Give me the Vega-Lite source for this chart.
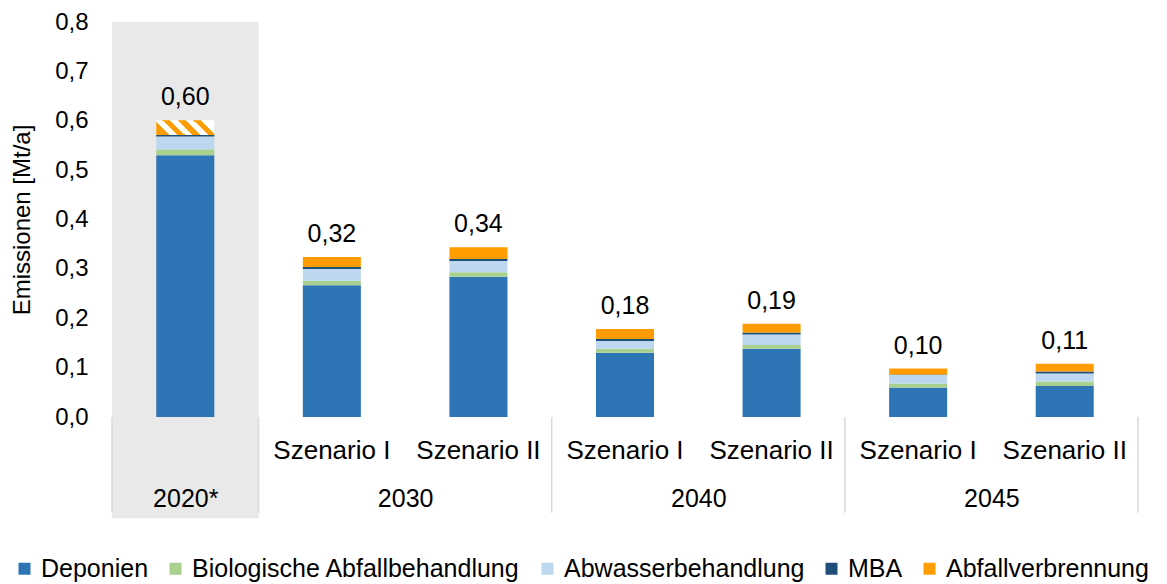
{
  "$schema": "https://vega.github.io/schema/vega-lite/v6.json",
  "width": 1026,
  "height": 395,
  "autosize": {"type": "none"},
  "padding": {"left": 112, "top": 22, "right": 29, "bottom": 167},
  "config": {
    "locale": {"number": {"decimal": ",", "thousands": ".", "grouping": [3], "currency": ["", " €"]}},
    "view": {"stroke": null},
    "font": "Liberation Sans",
    "axis": {"labelFont": "Liberation Sans", "titleFont": "Liberation Sans", "labelColor": "#000000", "titleColor": "#000000", "titleFontWeight": "normal"},
    "legend": {"labelFont": "Liberation Sans", "labelColor": "#000000"}
  },
  "datasets": {
    "emis": [
      {"cat": "2020*", "k": "Deponien", "v": 0.530},
      {"cat": "2020*", "k": "Biologische Abfallbehandlung", "v": 0.012},
      {"cat": "2020*", "k": "Abwasserbehandlung", "v": 0.026},
      {"cat": "2020*", "k": "MBA", "v": 0.003},
      {"cat": "2020*", "k": "Abfallverbrennung", "v": 0.030},
      {"cat": "2030 Szenario I", "k": "Deponien", "v": 0.267},
      {"cat": "2030 Szenario I", "k": "Biologische Abfallbehandlung", "v": 0.009},
      {"cat": "2030 Szenario I", "k": "Abwasserbehandlung", "v": 0.024},
      {"cat": "2030 Szenario I", "k": "MBA", "v": 0.004},
      {"cat": "2030 Szenario I", "k": "Abfallverbrennung", "v": 0.020},
      {"cat": "2030 Szenario II", "k": "Deponien", "v": 0.284},
      {"cat": "2030 Szenario II", "k": "Biologische Abfallbehandlung", "v": 0.009},
      {"cat": "2030 Szenario II", "k": "Abwasserbehandlung", "v": 0.023},
      {"cat": "2030 Szenario II", "k": "MBA", "v": 0.004},
      {"cat": "2030 Szenario II", "k": "Abfallverbrennung", "v": 0.024},
      {"cat": "2040 Szenario I", "k": "Deponien", "v": 0.130},
      {"cat": "2040 Szenario I", "k": "Biologische Abfallbehandlung", "v": 0.008},
      {"cat": "2040 Szenario I", "k": "Abwasserbehandlung", "v": 0.016},
      {"cat": "2040 Szenario I", "k": "MBA", "v": 0.004},
      {"cat": "2040 Szenario I", "k": "Abfallverbrennung", "v": 0.020},
      {"cat": "2040 Szenario II", "k": "Deponien", "v": 0.138},
      {"cat": "2040 Szenario II", "k": "Biologische Abfallbehandlung", "v": 0.008},
      {"cat": "2040 Szenario II", "k": "Abwasserbehandlung", "v": 0.021},
      {"cat": "2040 Szenario II", "k": "MBA", "v": 0.004},
      {"cat": "2040 Szenario II", "k": "Abfallverbrennung", "v": 0.018},
      {"cat": "2045 Szenario I", "k": "Deponien", "v": 0.060},
      {"cat": "2045 Szenario I", "k": "Biologische Abfallbehandlung", "v": 0.008},
      {"cat": "2045 Szenario I", "k": "Abwasserbehandlung", "v": 0.017},
      {"cat": "2045 Szenario I", "k": "MBA", "v": 0.001},
      {"cat": "2045 Szenario I", "k": "Abfallverbrennung", "v": 0.012},
      {"cat": "2045 Szenario II", "k": "Deponien", "v": 0.063},
      {"cat": "2045 Szenario II", "k": "Biologische Abfallbehandlung", "v": 0.009},
      {"cat": "2045 Szenario II", "k": "Abwasserbehandlung", "v": 0.016},
      {"cat": "2045 Szenario II", "k": "MBA", "v": 0.004},
      {"cat": "2045 Szenario II", "k": "Abfallverbrennung", "v": 0.016}
    ],
    "sep": [{"s": 0}, {"s": 1}, {"s": 3}, {"s": 5}, {"s": 7}]
  },
  "layer": [
    {
      "data": {"name": "emis"},
      "layer": [
        {
          "transform": [{"filter": "datum.cat === '2020*' && datum.k === 'Deponien'"}],
          "mark": {"type": "rect", "fill": "#e3e3e3", "opacity": 0.8},
          "encoding": {
            "x": {"field": "cat", "type": "nominal", "sort": null,
                  "scale": {"domain": ["2020*", "2030 Szenario I", "2030 Szenario II", "2040 Szenario I", "2040 Szenario II", "2045 Szenario I", "2045 Szenario II"], "paddingInner": 0, "paddingOuter": 0}},
            "y": {"datum": 0.8, "type": "quantitative"},
            "y2": {"datum": -0.205}
          }
        },
        {
          "transform": [{"calculate": "indexof(['Deponien', 'Biologische Abfallbehandlung', 'Abwasserbehandlung', 'MBA', 'Abfallverbrennung'], datum.k)", "as": "ord"}],
          "mark": {"type": "bar", "width": {"band": 0.396}},
          "encoding": {
            "x": {"field": "cat", "type": "nominal", "sort": null,
                  "scale": {"domain": ["2020*", "2030 Szenario I", "2030 Szenario II", "2040 Szenario I", "2040 Szenario II", "2045 Szenario I", "2045 Szenario II"], "paddingInner": 0, "paddingOuter": 0},
                  "axis": {"orient": "bottom", "title": null, "ticks": false, "domain": false, "grid": false, "labelAngle": 0, "labelAlign": "center", "labelBaseline": "top", "labelPadding": 20, "labelFontSize": 26, "zindex": 1, "labelExpr": "indexof(datum.label, ' ') < 0 ? '' : substring(datum.label, 5)"}},
            "y": {"field": "v", "type": "quantitative", "stack": "zero",
                  "scale": {"domain": [0, 0.8], "nice": false},
                  "axis": {"title": "Emissionen [Mt/a]", "values": [0, 0.1, 0.2, 0.3, 0.4, 0.5, 0.6, 0.7, 0.8], "format": ".1f", "domain": false, "ticks": false, "labelPadding": 24, "labelFontSize": 24, "titleFontSize": 24, "titlePadding": 20, "gridColor": "#d9d9d9", "gridWidth": 1.5}},
            "order": {"field": "ord", "type": "quantitative", "sort": "ascending"},
            "color": {
              "field": "k", "type": "nominal",
              "sort": ["Deponien", "Biologische Abfallbehandlung", "Abwasserbehandlung", "MBA", "Abfallverbrennung"],
              "scale": {"domain": ["Deponien", "Biologische Abfallbehandlung", "Abwasserbehandlung", "MBA", "Abfallverbrennung"],
                        "range": ["#2e75b6", "#a9d18e", "#bdd7ee", "#1f4e79", "#ff9d00"]},
              "condition": {
                "test": "datum.cat === '2020*' && datum.k === 'Abfallverbrennung'",
                "value": {"gradient": "linear", "x1": 0, "y1": 0.63, "x2": 1, "y2": 0.37,
                  "stops": [
                    {"offset": 0, "color": "#ff9d00"}, {"offset": 0.125, "color": "#ff9d00"},
                    {"offset": 0.125, "color": "#ffffff"}, {"offset": 0.25, "color": "#ffffff"},
                    {"offset": 0.25, "color": "#ff9d00"}, {"offset": 0.375, "color": "#ff9d00"},
                    {"offset": 0.375, "color": "#ffffff"}, {"offset": 0.5, "color": "#ffffff"},
                    {"offset": 0.5, "color": "#ff9d00"}, {"offset": 0.625, "color": "#ff9d00"},
                    {"offset": 0.625, "color": "#ffffff"}, {"offset": 0.75, "color": "#ffffff"},
                    {"offset": 0.75, "color": "#ff9d00"}, {"offset": 0.875, "color": "#ff9d00"},
                    {"offset": 0.875, "color": "#ffffff"}, {"offset": 1, "color": "#ffffff"}
                  ]}
              },
              "legend": {"title": null, "orient": "none", "legendX": -100, "legendY": 534, "direction": "horizontal", "columns": 5, "symbolType": "square", "symbolSize": 144, "symbolStrokeWidth": 0, "labelFontSize": 25, "labelOffset": 4, "columnPadding": 14, "padding": 0, "labelLimit": 500}
            }
          }
        },
        {
          "mark": {"type": "text", "dy": -15, "baseline": "alphabetic", "fontSize": 25, "font": "Liberation Sans", "color": "#000000"},
          "encoding": {
            "x": {"field": "cat", "type": "nominal", "sort": null,
                  "scale": {"domain": ["2020*", "2030 Szenario I", "2030 Szenario II", "2040 Szenario I", "2040 Szenario II", "2045 Szenario I", "2045 Szenario II"], "paddingInner": 0, "paddingOuter": 0}},
            "y": {"aggregate": "sum", "field": "v", "type": "quantitative"},
            "text": {"aggregate": "sum", "field": "v", "type": "quantitative", "format": ".2f"}
          }
        }
      ]
    },
    {
      "data": {"name": "sep"},
      "mark": {"type": "rule", "color": "#d9d9d9", "strokeWidth": 1.5},
      "encoding": {
        "x": {"field": "s", "type": "quantitative",
              "scale": {"domain": [0, 7], "nice": false, "zero": false},
              "axis": {"orient": "bottom", "title": null, "values": [0.5, 2, 4, 6], "labelExpr": "datum.value === 0.5 ? '2020*' : datum.value === 2 ? '2030' : datum.value === 4 ? '2040' : '2045'", "ticks": false, "domain": false, "grid": false, "labelPadding": 69, "labelFontSize": 25, "labelFlush": false, "labelOverlap": false, "zindex": 1}},
        "y": {"datum": 0, "type": "quantitative"},
        "y2": {"datum": -0.194}
      }
    }
  ],
  "resolve": {"scale": {"x": "independent"}, "axis": {"x": "independent"}}
}
